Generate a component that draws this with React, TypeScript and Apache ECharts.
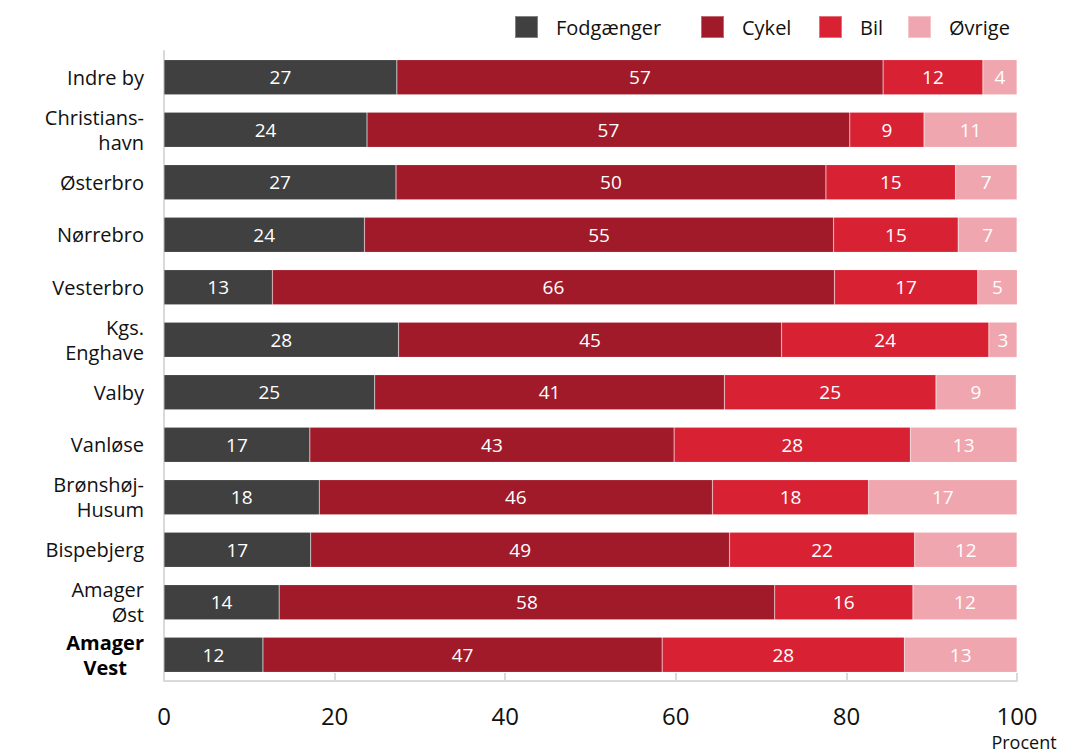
import React, { useEffect, useRef } from "react";
import * as echarts from "echarts";

const categories = [
  "Indre by",
  "Christians-\nhavn",
  "Østerbro",
  "Nørrebro",
  "Vesterbro",
  "Kgs.\nEnghave",
  "Valby",
  "Vanløse",
  "Brønshøj-\nHusum",
  "Bispebjerg",
  "Amager\nØst",
  "Amager\nVest",
];
const fodgaenger = [27.3, 23.8, 27.2, 23.5, 12.7, 27.5, 24.7, 17.1, 18.2, 17.2, 13.5, 11.6];
const cykel = [57.0, 56.6, 50.4, 55.0, 65.9, 44.9, 41.0, 42.7, 46.1, 49.1, 58.1, 46.8];
const bil = [11.7, 8.7, 15.2, 14.6, 16.8, 24.3, 24.8, 27.7, 18.3, 21.7, 16.2, 28.4];
const ovrige = [4.0, 10.9, 7.2, 6.9, 4.7, 3.3, 9.4, 12.5, 17.4, 12.0, 12.2, 13.2];
const seriesNames = ["Fodgænger", "Cykel", "Bil", "Øvrige"];
const xTicks = [0, 20, 40, 60, 80, 100];

const FONT = "Open Sans";
const legendLeft = [514, 700, 818, 907];

export default function App() {
  const ref = useRef<HTMLDivElement>(null);
  useEffect(() => {
    document.body.style.margin = "0";
    if (!ref.current) return;
    const chart = echarts.init(ref.current, undefined, { renderer: "svg" });
    const mk = (name: string, data: number[], color: string) => ({
      name,
      type: "bar",
      stack: "total",
      data,
      barWidth: "67%",
      itemStyle: { color, borderColor: "rgba(255,255,255,0.35)", borderWidth: 0.5 },
      label: {
        show: true,
        position: "inside",
        color: "#ffffff",
        fontFamily: FONT,
        fontSize: 19,
        formatter: (p: any) => String(Math.round(p.value)),
      },
    });
    chart.setOption({
      animation: false,
      textStyle: { fontFamily: FONT },
      legend: seriesNames.map((n, i) => ({
        top: 10,
        left: legendLeft[i] - 5,
        itemWidth: 23,
        itemHeight: 22,
        icon: "rect",
        textStyle: { fontFamily: FONT, fontSize: 20, color: "#111", padding: [0, 0, 0, 13] },
        data: [n],
      })),
      grid: { left: 164, right: 52, top: 51, bottom: 74, containLabel: false },
      graphic: [
        {
          type: "text",
          x: 1024,
          y: 742,
          style: {
            text: "Procent",
            fontFamily: FONT,
            fontSize: 18,
            fill: "#111",
            align: "center",
            verticalAlign: "middle",
          },
        },
      ],
      xAxis: {
        type: "value",
        min: 0,
        max: 100,
        interval: 20,
        axisLine: { show: true, lineStyle: { color: "#d9d9d9", width: 2 } },
        axisTick: { show: true, inside: true, length: 8, lineStyle: { color: "#d9d9d9", width: 2 } },
        splitLine: { show: false },
        axisLabel: {
          fontFamily: FONT,
          fontSize: 24,
          color: "#111",
          margin: 22,
          formatter: (v: number) => (xTicks.includes(v) ? String(v) : ""),
        },
      },
      yAxis: {
        type: "category",
        data: categories,
        inverse: true,
        axisLine: { show: true, lineStyle: { color: "#d9d9d9", width: 2 } },
        axisTick: { show: false },
        axisLabel: {
          fontFamily: FONT,
          fontSize: 20,
          color: "#111",
          margin: 20,
          lineHeight: 25,
          align: "right",
          formatter: (v: string, i: number) =>
            i === categories.length - 1
              ? v.split("\n").map((s) => `{b|${s}}`).join("\n")
              : v,
          rich: {
            b: { fontFamily: FONT, fontSize: 20, fontWeight: "bold", color: "#000", lineHeight: 25, align: "center" },
          },
        },
      },
      series: [
        mk(seriesNames[0], fodgaenger, "#404040"),
        mk(seriesNames[1], cykel, "#a11a29"),
        mk(seriesNames[2], bil, "#d82234"),
        mk(seriesNames[3], ovrige, "#f0a6ae"),
      ],
    });
    return () => chart.dispose();
  }, []);
  return <div ref={ref} style={{ width: 1069, height: 755 }} />;
}
